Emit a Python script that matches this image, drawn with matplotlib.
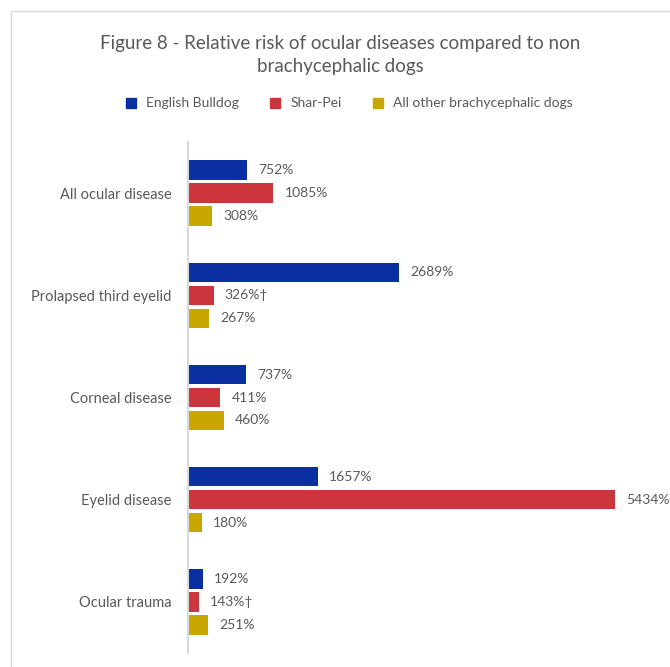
import numpy as np
import matplotlib.pyplot as plt
from matplotlib.patches import Rectangle
from matplotlib.lines import Line2D

plt.rcParams['font.family'] = ['Lato', 'DejaVu Sans']

categories = ['All ocular disease', 'Prolapsed third eyelid', 'Corneal disease',
              'Eyelid disease', 'Ocular trauma']
series = ['English Bulldog', 'Shar-Pei', 'All other brachycephalic dogs']
bulldog = [752, 2689, 737, 1657, 192]
sharpei = [1085, 326, 411, 5434, 143]
other = [308, 267, 460, 180, 251]
sharpei_marks = ['', '\u2020', '', '', '\u2020']
colors = ['#0a2fa0', '#cc343e', '#c8a800']
text_col = '#595959'

fig = plt.figure(figsize=(6.7, 6.67), dpi=100)
fig.patches.append(Rectangle((11 / 670, -0.1), 1.2, 1 - 11 / 667 + 0.1,
                             transform=fig.transFigure, fill=False,
                             edgecolor='#d9d9d9', linewidth=1.0))

ax = fig.add_axes([188 / 670, 14 / 667, 455 / 670, 511 / 667])
y = np.arange(len(categories))
h = 0.19
step = 0.225
vals = [bulldog, sharpei, other]
for k, (v, c) in enumerate(zip(vals, colors)):
    pos = y + (k - 1) * step
    bars = ax.barh(pos, v, height=h, color=c, label=series[k])
    marks = sharpei_marks if k == 1 else [''] * len(v)
    labels = [f'{val}%{m}' for val, m in zip(v, marks)]
    ax.bar_label(bars, labels=labels, padding=8, fontsize=10, color=text_col)

ax.set_xlim(0, 5790)
ax.set_ylim(4.5, -0.5)
ax.set_yticks(y)
ax.set_yticklabels(categories, fontsize=10.5, color=text_col)
ax.tick_params(axis='y', length=0, pad=12)
ax.set_xticks([])
for s in ['top', 'right', 'bottom']:
    ax.spines[s].set_visible(False)
ax.spines['left'].set_color('#d9d9d9')
ax.spines['left'].set_linewidth(1.5)

fig.text(0.508, 0.947, 'Figure 8 - Relative risk of ocular diseases compared to non\nbrachycephalic dogs',
         ha='center', va='top', fontsize=13.5, color=text_col, linespacing=1.4)

handles = [Line2D([], [], marker='s', linestyle='', markersize=7,
                  color=c) for c in colors]
fig.legend(handles, series, loc='center', bbox_to_anchor=(0.515, 0.845),
           ncol=3, frameon=False, fontsize=10, handletextpad=0.1,
           columnspacing=1.6, labelcolor=text_col)

fig.savefig('out.png', dpi=100)
